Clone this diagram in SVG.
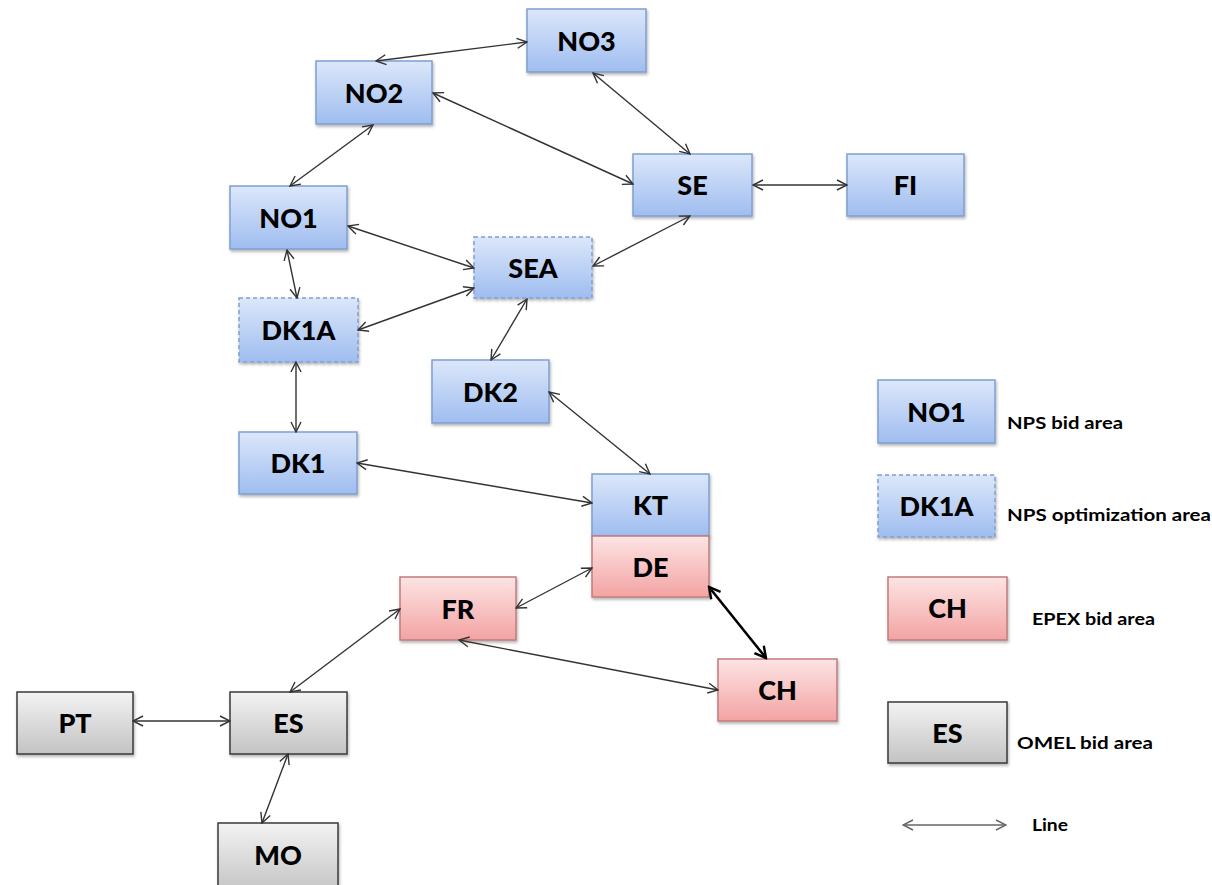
<svg xmlns="http://www.w3.org/2000/svg" width="1212" height="885" viewBox="0 0 1212 885">
<style>
.lbl{font-family:Lato,"Liberation Sans",sans-serif;font-weight:900;font-size:27px;fill:#000;text-anchor:middle}
.leg{font-family:Lato,"Liberation Sans",sans-serif;font-weight:700;font-size:17px;fill:#000}
.blue{fill:url(#gb);stroke:#7f9fd1;stroke-width:1.5}
.dash{fill:url(#gb);stroke:#7f9fd1;stroke-width:1.5;stroke-dasharray:4,3}
.red{fill:url(#gr);stroke:#c07c7c;stroke-width:1.5}
.gray{fill:url(#gg);stroke:#3a3a3a;stroke-width:1.5}
.c{stroke:#333;stroke-width:1.4;fill:none;marker-start:url(#a);marker-end:url(#a)}
.ct{stroke:#000;stroke-width:2.6;fill:none;marker-start:url(#at);marker-end:url(#at)}
.cl{stroke:#666;stroke-width:1.4;fill:none;marker-start:url(#al);marker-end:url(#al)}
</style>
<defs>
<linearGradient id="gb" x1="0" y1="0" x2="0" y2="1"><stop offset="0" stop-color="#dce7fa"/><stop offset="1" stop-color="#9fbdf0"/></linearGradient>
<linearGradient id="gr" x1="0" y1="0" x2="0" y2="1"><stop offset="0" stop-color="#fde4e4"/><stop offset="1" stop-color="#f3a3a3"/></linearGradient>
<linearGradient id="gg" x1="0" y1="0" x2="0" y2="1"><stop offset="0" stop-color="#f3f3f3"/><stop offset="1" stop-color="#c3c3c3"/></linearGradient>
<filter id="sh" x="-10%" y="-10%" width="125%" height="135%"><feDropShadow dx="1" dy="2" stdDeviation="1.5" flood-color="#000" flood-opacity="0.3"/></filter>
<marker id="a" viewBox="-12 -6 13 12" markerWidth="13" markerHeight="12" refX="0" refY="0" orient="auto-start-reverse" markerUnits="userSpaceOnUse"><path d="M-10,-5 L0,0 L-10,5" fill="none" stroke="#333" stroke-width="1.4"/></marker>
<marker id="al" viewBox="-12 -6 13 12" markerWidth="13" markerHeight="12" refX="0" refY="0" orient="auto-start-reverse" markerUnits="userSpaceOnUse"><path d="M-10,-5 L0,0 L-10,5" fill="none" stroke="#666" stroke-width="1.4"/></marker>
<marker id="at" viewBox="-14 -8 16 16" markerWidth="16" markerHeight="16" refX="0" refY="0" orient="auto-start-reverse" markerUnits="userSpaceOnUse"><path d="M-11,-6 L0,0 L-11,6" fill="none" stroke="#000" stroke-width="2.4"/></marker>
</defs>
<rect width="1212" height="885" fill="#fff"/>
<g id="NO3"><rect class="blue" filter="url(#sh)" x="527" y="9" width="119" height="63"/><text class="lbl" x="586.5" y="51">NO3</text></g>
<g id="NO2"><rect class="blue" filter="url(#sh)" x="316" y="61" width="116" height="63"/><text class="lbl" x="374" y="103">NO2</text></g>
<g id="NO1"><rect class="blue" filter="url(#sh)" x="230" y="186" width="117" height="63"/><text class="lbl" x="288.5" y="228">NO1</text></g>
<g id="SE"><rect class="blue" filter="url(#sh)" x="633" y="154" width="119" height="62"/><text class="lbl" x="692.5" y="195">SE</text></g>
<g id="FI"><rect class="blue" filter="url(#sh)" x="847" y="154" width="117" height="62"/><text class="lbl" x="905.5" y="195">FI</text></g>
<g id="SEA"><rect class="dash" filter="url(#sh)" x="474" y="237" width="118" height="61"/><text class="lbl" x="533" y="278">SEA</text></g>
<g id="DK1A"><rect class="dash" filter="url(#sh)" x="239" y="298" width="119" height="64"/><text class="lbl" x="298.5" y="340">DK1A</text></g>
<g id="DK2"><rect class="blue" filter="url(#sh)" x="432" y="360" width="117" height="63"/><text class="lbl" x="490.5" y="402">DK2</text></g>
<g id="DK1"><rect class="blue" filter="url(#sh)" x="239" y="432" width="118" height="62"/><text class="lbl" x="298" y="473">DK1</text></g>
<g id="KT"><rect class="blue" filter="url(#sh)" x="592" y="474" width="117" height="62"/><text class="lbl" x="650.5" y="515">KT</text></g>
<g id="DE"><rect class="red" filter="url(#sh)" x="592" y="536" width="117" height="61"/><text class="lbl" x="650.5" y="577">DE</text></g>
<g id="FR"><rect class="red" filter="url(#sh)" x="400" y="577" width="116" height="63"/><text class="lbl" x="458" y="619">FR</text></g>
<g id="CH"><rect class="red" filter="url(#sh)" x="718" y="659" width="119" height="62"/><text class="lbl" x="777.5" y="700">CH</text></g>
<g id="PT"><rect class="gray" filter="url(#sh)" x="17" y="692" width="116" height="62"/><text class="lbl" x="75" y="733">PT</text></g>
<g id="ES"><rect class="gray" filter="url(#sh)" x="230" y="692" width="117" height="62"/><text class="lbl" x="288.5" y="733">ES</text></g>
<g id="MO"><rect class="gray" filter="url(#sh)" x="218" y="823" width="120" height="70"/><text class="lbl" x="278" y="865">MO</text></g>
<g id="connectors">
<line class="c" x1="376" y1="61" x2="527" y2="42"/>
<line class="c" x1="433" y1="93" x2="633" y2="184"/>
<line class="c" x1="593" y1="73" x2="690" y2="154"/>
<line class="c" x1="373" y1="125" x2="290" y2="186"/>
<line class="c" x1="753" y1="185" x2="847" y2="185"/>
<line class="c" x1="348" y1="226" x2="474" y2="268"/>
<line class="c" x1="690" y1="216" x2="593" y2="266"/>
<line class="c" x1="287" y1="250" x2="297" y2="298"/>
<line class="c" x1="358" y1="330" x2="474" y2="288"/>
<line class="c" x1="527" y1="299" x2="491" y2="360"/>
<line class="c" x1="296" y1="362" x2="296" y2="432"/>
<line class="c" x1="549" y1="392" x2="650" y2="474"/>
<line class="c" x1="357" y1="463" x2="592" y2="503"/>
<line class="c" x1="516" y1="608" x2="592" y2="568"/>
<line class="ct" x1="709" y1="587" x2="766" y2="658"/>
<line class="c" x1="459" y1="640" x2="718" y2="690"/>
<line class="c" x1="400" y1="609" x2="290" y2="692"/>
<line class="c" x1="133" y1="721" x2="230" y2="721"/>
<line class="c" x1="288" y1="754" x2="262" y2="823"/>
</g>
<g id="legend">
<g id="leg-NO1"><rect class="blue" filter="url(#sh)" x="878" y="380" width="117" height="63"/><text class="lbl" x="936.5" y="422">NO1</text><text class="leg" x="1007" y="429" textLength="116" lengthAdjust="spacingAndGlyphs">NPS bid area</text></g>
<g id="leg-DK1A"><rect class="dash" filter="url(#sh)" x="878" y="475" width="117" height="62"/><text class="lbl" x="936.5" y="516">DK1A</text><text class="leg" x="1007" y="521" textLength="204" lengthAdjust="spacingAndGlyphs">NPS optimization area</text></g>
<g id="leg-CH"><rect class="red" filter="url(#sh)" x="888" y="577" width="119" height="63"/><text class="lbl" x="947.5" y="618">CH</text><text class="leg" x="1032" y="625" textLength="123" lengthAdjust="spacingAndGlyphs">EPEX bid area</text></g>
<g id="leg-ES"><rect class="gray" filter="url(#sh)" x="888" y="702" width="119" height="61"/><text class="lbl" x="947.5" y="743">ES</text><text class="leg" x="1017" y="749" textLength="136" lengthAdjust="spacingAndGlyphs">OMEL bid area</text></g>
<g id="leg-line"><line class="cl" x1="903" y1="825" x2="1006" y2="825"/><text class="leg" x="1032" y="831" textLength="36" lengthAdjust="spacingAndGlyphs">Line</text></g>
</g>
</svg>
